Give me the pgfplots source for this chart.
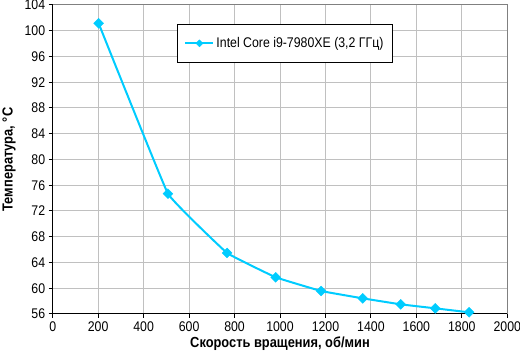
\documentclass[border=0pt]{standalone}
\usepackage{pgfplots}
\pgfplotsset{compat=1.18}
\usepackage{fontspec}
\setmainfont{Liberation Sans}[FakeStretch=0.88]
\definecolor{linecyan}{RGB}{0,204,255}
\definecolor{gridgray}{RGB}{192,192,192}
\definecolor{framegray}{RGB}{128,128,128}
\begin{document}
\begin{tikzpicture}
\useasboundingbox (-52.7pt,-41pt) rectangle (467.3pt,314pt);
\begin{axis}[
  scale only axis,
  width=454.6pt, height=309pt,
  xmin=0, xmax=2000, ymin=56, ymax=104,
  xtick={0,200,...,2000}, ytick={56,60,...,104},
  grid=major,
  major grid style={gridgray, line width=1pt},
  axis line style={draw=none},
  tick style={black, line width=1pt},
  tick align=outside,
  major tick length=4pt,
  xtick pos=bottom, ytick pos=left,
  /pgf/number format/assume math mode=true,
  /pgf/number format/1000 sep={},
  tick label style={font=\fontsize{14}{15}\selectfont},
  xlabel={\textbf{Скорость вращения, об/мин}},
  ylabel={\textbf{Температура, °C}},
  label style={font=\fontsize{14.6}{15}\selectfont},
  xlabel style={yshift=2pt},
  ylabel style={yshift=2pt},
  legend style={at={(0.2734,0.9385)}, anchor=north west, draw=black, line width=1pt,
    inner xsep=7pt, inner ysep=11pt, font=\fontsize{14}{15}\selectfont, /tikz/every even column/.append style={column sep=4pt}},
  legend cell align=left,
  legend image code/.code={\draw[#1, mark size=2.5pt] plot coordinates {(0pt,0pt)}; \draw[#1, mark=none] (-14pt,0pt) -- (14pt,0pt);},
  clip=false,
]
\draw[framegray, line width=1pt] (rel axis cs:0,1) -- (rel axis cs:1,1) -- (rel axis cs:1,0);
\draw[black, line width=1pt] (rel axis cs:0,1) -- (rel axis cs:0,0) -- (rel axis cs:1,0);
\addplot[color=linecyan, line width=2pt, smooth, tension=0.12, mark=square*, mark size=3.5pt, mark options={fill=linecyan, draw=linecyan, line width=0.4pt, rotate=45}] coordinates {
(202,101.15) (507,74.69) (767,65.48) (981,61.7) (1181,59.57) (1364,58.43) (1531,57.5) (1683,56.88) (1832,56.26)
};
\addlegendentry{Intel Core i9-7980XE (3,2 ГГц)}
\end{axis}
\end{tikzpicture}
\end{document}
